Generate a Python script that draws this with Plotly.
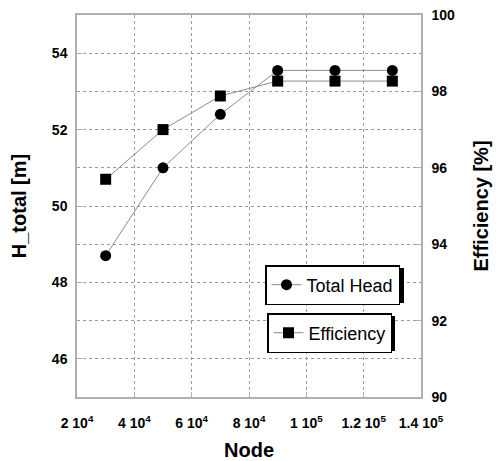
import plotly.graph_objects as go

node = [30000, 50000, 70000, 90000, 110000, 130000]
total_head = [48.7, 51.0, 52.4, 53.55, 53.55, 53.55]
efficiency = [95.7, 97.0, 97.88, 98.27, 98.27, 98.27]

x_tickvals = [20000, 40000, 60000, 80000, 100000, 120000, 140000]
x_ticktext = ["2 10<sup>4</sup>", "4 10<sup>4</sup>", "6 10<sup>4</sup>", "8 10<sup>4</sup>",
              "1 10<sup>5</sup>", "1.2 10<sup>5</sup>", "1.4 10<sup>5</sup>"]

FONT = "Liberation Sans, Arial, sans-serif"
GRID = "#9a9a9a"
FRAME = "#b0b0b0"
LINE = "#8c8c8c"

fig = go.Figure()
fig.add_trace(go.Scatter(
    x=node, y=total_head, name="Total Head", mode="lines+markers",
    line=dict(color=LINE, width=1),
    marker=dict(symbol="circle", size=11, color="black"),
    legend="legend",
))
fig.add_trace(go.Scatter(
    x=node, y=efficiency, name="Efficiency", mode="lines+markers",
    line=dict(color=LINE, width=1),
    marker=dict(symbol="square", size=11, color="black"),
    yaxis="y2", legend="legend2",
))

L, R, T, B = 77, 75, 15, 64
W, H = 496, 461
pw, ph = W - L - R, H - T - B


def px2paper(px, py):
    return (px - L) / pw, (H - B - py) / ph


def shadow(x0, y0, x1, y1, off=3):
    a0, b1 = px2paper(x0 + off, y0 + off)
    a1, b0 = px2paper(x1 + off, y1 + off)
    fig.add_shape(type="rect", xref="paper", yref="paper", x0=a0, x1=a1, y0=b0, y1=b1,
                  fillcolor="black", line=dict(width=0), layer="above")


lx1, ly1 = px2paper(265, 265)
lx2, ly2 = px2paper(267, 313)

# shadows sized to the rendered legend boxes
shadow(265, 265, 401, 300)
shadow(267, 313, 392, 348)

leg_common = dict(xanchor="left", yanchor="top", bgcolor="white", bordercolor="black",
                  borderwidth=1.5, font=dict(size=18, family=FONT), itemwidth=30)

fig.update_layout(
    width=W, height=H,
    margin=dict(l=L, r=R, t=T, b=B, autoexpand=False),
    paper_bgcolor="white", plot_bgcolor="white",
    font=dict(family=FONT, color="black"),
    showlegend=True,
    legend=dict(x=lx1, y=ly1, **leg_common),
    legend2=dict(x=lx2, y=ly2, **leg_common),
    xaxis=dict(
        range=[20000, 140000], tickvals=x_tickvals, ticktext=x_ticktext,
        showgrid=True, gridcolor=GRID, griddash="dot", gridwidth=1,
        showline=True, linecolor=FRAME, linewidth=1.5, mirror=True,
        ticks="inside", ticklen=5, tickcolor=FRAME, zeroline=False,
        ticklabelstandoff=12, automargin=False,
        tickfont=dict(size=14, family=FONT, weight="bold"),
        title=dict(text="<b>Node</b>", font=dict(size=20, family=FONT), standoff=14),
    ),
    yaxis=dict(
        range=[45, 55], tickvals=[46, 48, 50, 52, 54],
        showgrid=True, gridcolor=GRID, griddash="dot", gridwidth=1,
        minor=dict(dtick=1, tick0=45, showgrid=True, gridcolor=GRID, griddash="dot"),
        showline=True, linecolor=FRAME, linewidth=1.5,
        ticks="inside", ticklen=5, tickcolor=FRAME, zeroline=False,
        ticklabelstandoff=5, automargin=False,
        tickfont=dict(size=14, family=FONT, weight="bold"),
        title=dict(text="<b>H_total [m]</b>", font=dict(size=20, family=FONT), standoff=20),
    ),
    yaxis2=dict(
        range=[90, 100], tickvals=[90, 92, 94, 96, 98, 100],
        overlaying="y", side="right", showgrid=False,
        showline=True, linecolor=FRAME, linewidth=1.5,
        ticks="inside", ticklen=5, tickcolor=FRAME, zeroline=False,
        ticklabelstandoff=6, automargin=False,
        tickfont=dict(size=14, family=FONT, weight="bold"),
        title=dict(text="<b>Efficiency [%]</b>", font=dict(size=20, family=FONT), standoff=20),
    ),
)

fig.write_html("out.html")
